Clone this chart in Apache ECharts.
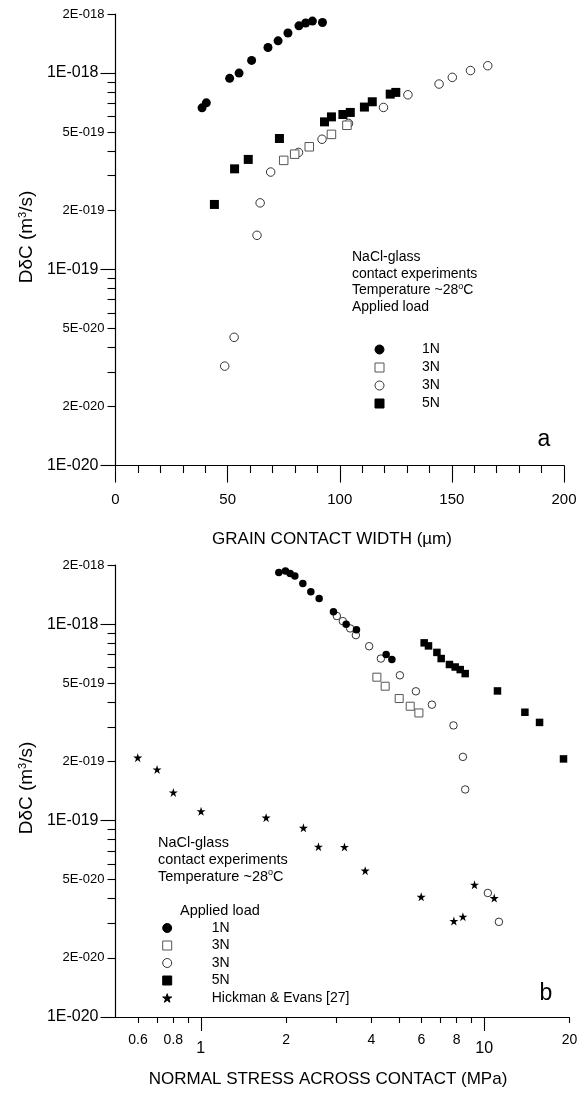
<!DOCTYPE html>
<html><head><meta charset="utf-8">
<script src="https://cdn.jsdelivr.net/npm/echarts@6/dist/echarts.min.js"></script>
<style>html,body{margin:0;padding:0;background:#fff}#c{width:588px;height:1096px}</style>
</head><body><div id="c"></div>
<script>
// ---------- Panel a: grain contact width (µm) vs DδC (m^3/s) ----------
const a_1N_width = [38.6, 40.5, 50.9, 55.1, 60.7, 68.0, 72.5, 76.9, 81.8, 84.8, 87.8, 92.3];
const a_1N_D = [6.65e-19, 7.05e-19, 9.4e-19, 1.0e-18, 1.16e-18, 1.35e-18, 1.46e-18, 1.6e-18, 1.74e-18, 1.8e-18, 1.84e-18, 1.81e-18];
const a_3Nsq_width = [75.0, 79.9, 86.4, 96.3, 103.2];
const a_3Nsq_D = [3.59e-19, 3.86e-19, 4.21e-19, 4.87e-19, 5.42e-19];
const a_3Nci_width = [48.7, 52.9, 63.1, 64.5, 69.2, 81.6, 92.1, 103.9, 119.5, 130.4, 144.3, 150.2, 158.3, 166.0];
const a_3Nci_D = [3.21e-20, 4.5e-20, 1.49e-19, 2.18e-19, 3.13e-19, 3.94e-19, 4.6e-19, 5.54e-19, 6.68e-19, 7.75e-19, 8.79e-19, 9.51e-19, 1.03e-18, 1.09e-18];
const a_5N_width = [44.1, 53.1, 59.2, 73.1, 93.2, 96.3, 101.4, 104.7, 111.0, 114.5, 122.5, 125.0];
const a_5N_D = [2.14e-19, 3.25e-19, 3.63e-19, 4.64e-19, 5.64e-19, 5.98e-19, 6.15e-19, 6.3e-19, 6.71e-19, 7.14e-19, 7.81e-19, 7.97e-19];

// ---------- Panel b: normal stress (MPa) vs DδC (m^3/s) ----------
const b_1N_stress = [1.885, 1.989, 2.066, 2.147, 2.291, 2.445, 2.616, 2.938, 3.258, 3.542, 4.509, 4.723];
const b_1N_D = [1.83e-18, 1.865e-18, 1.81e-18, 1.76e-18, 1.61e-18, 1.46e-18, 1.35e-18, 1.155e-18, 1.0e-18, 9.35e-19, 7.0e-19, 6.6e-19];
const b_3Nsq_stress = [4.181, 4.473, 5.012, 5.482, 5.883];
const b_3Nsq_D = [5.37e-19, 4.83e-19, 4.18e-19, 3.82e-19, 3.53e-19];
const b_3Nci_stress = [3.020, 3.171, 3.365, 3.525, 3.927, 4.319, 5.041, 5.741, 6.538, 7.792, 8.412, 8.570, 10.30, 11.27];
const b_3Nci_D = [1.10e-18, 1.036e-18, 9.51e-19, 8.79e-19, 7.72e-19, 6.68e-19, 5.49e-19, 4.55e-19, 3.89e-19, 3.05e-19, 2.11e-19, 1.44e-19, 4.28e-20, 3.05e-20];
const b_5N_stress = [6.14, 6.36, 6.81, 7.05, 7.54, 7.90, 8.23, 8.57, 11.14, 13.92, 15.68, 19.05];
const b_5N_D = [8.03e-19, 7.75e-19, 7.18e-19, 6.68e-19, 6.23e-19, 6.05e-19, 5.87e-19, 5.60e-19, 4.57e-19, 3.56e-19, 3.16e-19, 2.06e-19];
const b_HE_stress = [0.599, 0.701, 0.800, 1.002, 1.700, 2.302, 2.601, 3.213, 3.802, 5.993, 7.817, 8.412, 9.243, 10.85];
const b_HE_D = [2.09e-19, 1.82e-19, 1.39e-19, 1.115e-19, 1.035e-19, 9.18e-20, 7.36e-20, 7.34e-20, 5.56e-20, 4.09e-20, 3.08e-20, 3.24e-20, 4.71e-20, 4.03e-20];

// ---------- Axis ticks ----------
const D_min = 1e-20, D_max = 2e-18;
const D_decades = [-20, -19, -18];
const D_mantissas = [1, 2, 3, 4, 5, 6, 7, 8, 9];
const D_labelMantissas = [2, 5];
const width_min = 0, width_max = 200, width_step = 50;
const stress_min = 0.5, stress_max = 20;
const stress_ticks = [0.6, 0.7, 0.8, 0.9, 2, 3, 4, 5, 6, 7, 8, 9, 20];
const stress_labels = [0.6, 0.8, 2, 4, 6, 8, 20];
const stress_major = [1, 10];

const legendNames = { a1N: '1N', a3Nsq: '3N', a3Nci: '3N', a5N: '5N', b1N: '1N', b3Nsq: '3N', b3Nci: '3N', b5N: '5N', bHE: 'Hickman & Evans [27]' };

const FONT = '"Liberation Sans", Arial, Helvetica, sans-serif';
const L = Math.log10;
const yMinL = L(D_min), yMaxL = L(D_max);
const eps = 1e-9;
const yMinor = [], yMinorLab = [], yMajor = [];
D_decades.forEach(e => D_mantissas.forEach(k => {
  const v = L(k) + e;
  if (v < yMinL - eps || v > yMaxL + eps) return;
  if (k === 1) yMajor.push(v); else yMinor.push(v);
  if (D_labelMantissas.includes(k)) yMinorLab.push(v);
}));
function fmtD(v) {
  const e = Math.floor(v + 1e-6);
  const k = Math.round(Math.pow(10, v - e));
  return k + 'E-0' + (-e);
}
function fmtS(v) { return String(parseFloat(Math.pow(10, v).toPrecision(2))); }

const STAR = 'path://M50,0 L61.2,34.5 L97.6,34.5 L68.2,55.9 L79.4,90.5 L50,69.1 L20.6,90.5 L31.8,55.9 L2.4,34.5 L38.8,34.5 Z';
const axisLine = { show: true, onZero: false, lineStyle: { color: '#000', width: 1.2 } };
const noLine = { show: false, onZero: false };

function yAxes(gridIndex) {
  return [
    { type: 'value', gridIndex, min: yMinL, max: yMaxL, position: 'left', axisLine, splitLine: { show: false },
      axisTick: { show: true, length: 8, customValues: yMinor, lineStyle: { color: '#000', width: 1.1 } },
      axisLabel: { customValues: yMinorLab, formatter: fmtD, fontSize: 13, margin: 11, color: '#000', fontFamily: FONT } },
    { type: 'value', gridIndex, min: yMinL, max: yMaxL, position: 'left', axisLine: noLine, splitLine: { show: false },
      axisTick: { show: true, length: 15, customValues: yMajor, lineStyle: { color: '#000', width: 1.1 } },
      axisLabel: { customValues: yMajor, formatter: fmtD, fontSize: 16, margin: 17, color: '#000', fontFamily: FONT } }
  ];
}

function ser(name, xs, ys, xi, yi, logX, symbol, size, fill, stroke) {
  return {
    type: 'scatter', name, xAxisIndex: xi, yAxisIndex: yi, symbol, symbolSize: size,
    itemStyle: { color: fill, borderColor: stroke || fill, borderWidth: stroke ? 1 : 0, opacity: 1 },
    data: xs.map((x, i) => [logX ? L(x) : x, L(ys[i])]),
    emphasis: { disabled: true }, z: 3
  };
}

const chart = echarts.init(document.getElementById('c'), null, { renderer: 'canvas' });
chart.setOption({
  animation: false,
  backgroundColor: '#fff',
  textStyle: { fontFamily: FONT },
  grid: [
    { left: 115.5, top: 14, width: 448.5, height: 451.5 },
    { left: 115.5, top: 565, width: 454, height: 452 }
  ],
  xAxis: [
    { type: 'value', gridIndex: 0, min: width_min, max: width_max, interval: width_step, position: 'bottom', axisLine, splitLine: { show: false },
      axisTick: { length: 17, lineStyle: { color: '#000', width: 1.1 } },
      minorTick: { show: true, splitNumber: 5, length: 7.5, lineStyle: { color: '#000', width: 1.1 } },
      axisLabel: { fontSize: 15, margin: 27, color: '#000', fontFamily: FONT } },
    { type: 'value', gridIndex: 1, min: L(stress_min), max: L(stress_max), position: 'bottom', axisLine, splitLine: { show: false },
      axisTick: { show: true, length: 6, customValues: stress_ticks.map(L), lineStyle: { color: '#000', width: 1.1 } },
      axisLabel: { customValues: stress_labels.map(L), formatter: fmtS, fontSize: 14, margin: 16, color: '#000', fontFamily: FONT } },
    { type: 'value', gridIndex: 1, min: L(stress_min), max: L(stress_max), position: 'bottom', axisLine: noLine, splitLine: { show: false },
      axisTick: { show: true, length: 14, customValues: stress_major.map(L), lineStyle: { color: '#000', width: 1.1 } },
      axisLabel: { customValues: stress_major.map(L), formatter: fmtS, fontSize: 16, margin: 24, color: '#000', fontFamily: FONT } }
  ],
  yAxis: [...yAxes(0), ...yAxes(1)],
  legend: [
    { orient: 'vertical', left: 374.5, top: 342.5, padding: 0, itemWidth: 9, itemHeight: 9, itemGap: 4, selectedMode: false,
      itemStyle: { borderWidth: 1 },
      data: ['a1N', 'a3Nsq', 'a3Nci', 'a5N'], formatter: n => '{t|' + legendNames[n] + '}',
      textStyle: { color: '#000', fontSize: 14, fontFamily: FONT, rich: { t: { color: '#000', fontSize: 14, fontFamily: FONT, padding: [0, 0, 0, 33] } } } },
    { orient: 'vertical', left: 162.2, top: 921, padding: 0, itemWidth: 9, itemHeight: 9, itemGap: 3.5, selectedMode: false,
      itemStyle: { borderWidth: 1 },
      data: ['b1N', 'b3Nsq', 'b3Nci', 'b5N', 'bHE'], formatter: n => '{t|' + legendNames[n] + '}',
      textStyle: { color: '#000', fontSize: 14, fontFamily: FONT, rich: { t: { color: '#000', fontSize: 14, fontFamily: FONT, padding: [0, 0, 0, 35] } } } }
  ],
  series: [
    ser('a3Nci', a_3Nci_width, a_3Nci_D, 0, 0, false, 'circle', 8.5, '#fff', '#333'),
    ser('a3Nsq', a_3Nsq_width, a_3Nsq_D, 0, 0, false, 'rect', 8.5, '#fff', '#555'),
    ser('a1N', a_1N_width, a_1N_D, 0, 0, false, 'circle', 9, '#000', null),
    ser('a5N', a_5N_width, a_5N_D, 0, 0, false, 'rect', 9, '#000', null),
    ser('b3Nci', b_3Nci_stress, b_3Nci_D, 1, 2, true, 'circle', 7.5, '#fff', '#333'),
    ser('b3Nsq', b_3Nsq_stress, b_3Nsq_D, 1, 2, true, 'rect', 8, '#fff', '#555'),
    ser('b1N', b_1N_stress, b_1N_D, 1, 2, true, 'circle', 7.5, '#000', null),
    ser('b5N', b_5N_stress, b_5N_D, 1, 2, true, 'rect', 7.5, '#000', null),
    ser('bHE', b_HE_stress, b_HE_D, 1, 2, true, STAR, 9, '#000', null)
  ],
  graphic: [
    { type: 'text', x: 27, y: 237, rotation: Math.PI / 2, style: { text: 'DδC (m{s|3}/s)', font: '19px ' + FONT, fill: '#000', align: 'center', verticalAlign: 'middle', rich: { s: { fontSize: 11, fontFamily: FONT, verticalAlign: 'top', fill: '#000' } } } },
    { type: 'text', x: 27, y: 788, rotation: Math.PI / 2, style: { text: 'DδC (m{s|3}/s)', font: '19px ' + FONT, fill: '#000', align: 'center', verticalAlign: 'middle', rich: { s: { fontSize: 11, fontFamily: FONT, verticalAlign: 'top', fill: '#000' } } } },
    { type: 'text', x: 332, y: 539, style: { text: 'GRAIN CONTACT WIDTH (µm)', font: '17px ' + FONT, fill: '#000', align: 'center', verticalAlign: 'middle' } },
    { type: 'text', x: 328, y: 1079, style: { text: 'NORMAL STRESS ACROSS CONTACT (MPa)', font: '17px ' + FONT, fill: '#000', align: 'center', verticalAlign: 'middle' } },
    { type: 'text', x: 544, y: 440, style: { text: 'a', font: '23px ' + FONT, fill: '#000', align: 'center', verticalAlign: 'middle' } },
    { type: 'text', x: 546, y: 994, style: { text: 'b', font: '23px ' + FONT, fill: '#000', align: 'center', verticalAlign: 'middle' } },
    { type: 'text', x: 352, y: 282, style: { text: 'NaCl-glass\ncontact experiments\nTemperature ~28{s|o}C\nApplied load', font: '14px ' + FONT, lineHeight: 16.7, fill: '#000', align: 'left', verticalAlign: 'middle', rich: { s: { fontSize: 9, fontFamily: FONT, verticalAlign: 'top', fill: '#000' } } } },
    { type: 'text', x: 158, y: 860, style: { text: 'NaCl-glass\ncontact experiments\nTemperature ~28{s|o}C', font: '14.5px ' + FONT, lineHeight: 17, fill: '#000', align: 'left', verticalAlign: 'middle', rich: { s: { fontSize: 9, fontFamily: FONT, verticalAlign: 'top', fill: '#000' } } } },
    { type: 'text', x: 180, y: 911, style: { text: 'Applied load', font: '14.5px ' + FONT, fill: '#000', align: 'left', verticalAlign: 'middle' } }
  ]
});
</script></body></html>
